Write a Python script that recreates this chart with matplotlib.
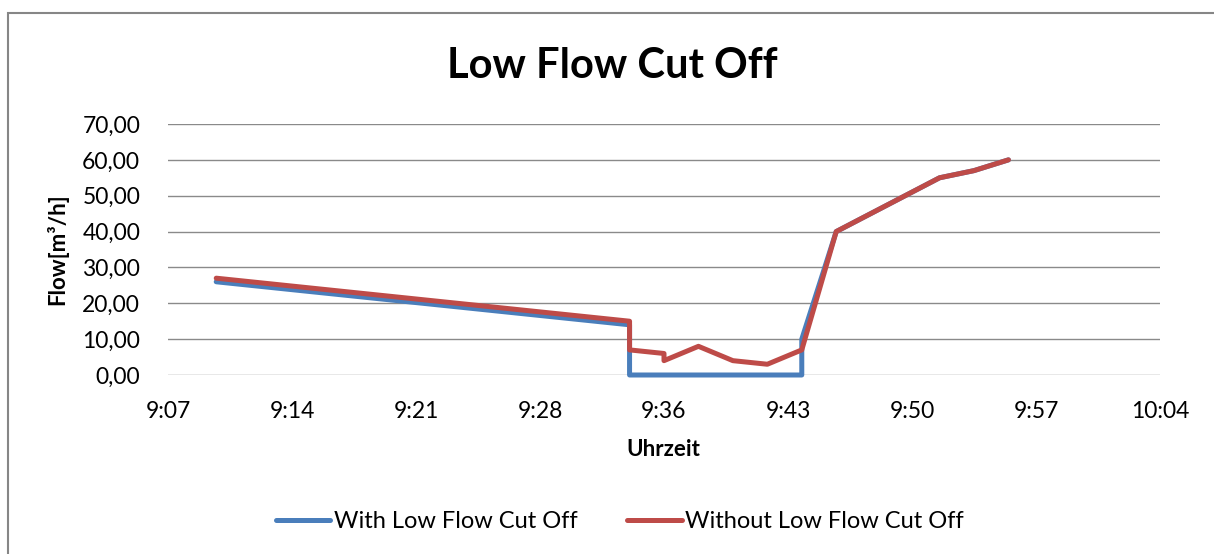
import matplotlib
matplotlib.use("Agg")
import matplotlib.pyplot as plt
from matplotlib.patches import Rectangle

plt.rcParams['font.family'] = ['Lato', 'DejaVu Sans']

# data (time of day, flow in m3/h)
times_with = ["9:10", "9:34", "9:34", "9:44", "9:44", "9:46", "9:52", "9:54", "9:56"]
flow_with = [26, 14, 0, 0, 10, 40, 55, 57, 60]

times_without = ["9:10", "9:34", "9:34", "9:36", "9:36", "9:38", "9:40", "9:42", "9:44",
                 "9:46", "9:52", "9:54", "9:56"]
flow_without = [27, 15, 7, 6, 4, 8, 4, 3, 7, 40, 55, 57, 60]

# Excel time axis: 0.38 .. 0.42 days, major unit 0.005 days
x_min_days = 0.38
x_max_days = 0.42
x_step_days = 0.005
y_ticks = [0, 10, 20, 30, 40, 50, 60, 70]


def to_minutes(t):
    h, m = t.split(':')
    return int(h) * 60 + int(m)


def fmt_time(minutes):
    h = int(minutes // 60)
    m = int(minutes % 60 + 1e-6)
    return f"{h}:{m:02d}"


W, H = 1214, 554
fig = plt.figure(figsize=(W / 100, H / 100), dpi=100)
ax = fig.add_axes([168 / W, 1 - 375 / H, (1160 - 168) / W, (375 - 124) / H])

blue = '#4A7EBB'
red = '#BE4B48'

ax.plot([to_minutes(t) for t in times_with], flow_with, color=blue, lw=3.6,
        solid_joinstyle='round', solid_capstyle='round', clip_on=False,
        label='With Low Flow Cut Off', zorder=3)
ax.plot([to_minutes(t) for t in times_without], flow_without, color=red, lw=3.6,
        solid_joinstyle='round', solid_capstyle='round', clip_on=False,
        label='Without Low Flow Cut Off', zorder=4)

x0 = x_min_days * 1440
x1 = x_max_days * 1440
n_ticks = int(round((x_max_days - x_min_days) / x_step_days)) + 1
xt = [x0 + i * x_step_days * 1440 for i in range(n_ticks)]
ax.set_xlim(x0, x1)
ax.set_xticks(xt)
ax.set_xticklabels([fmt_time(v) for v in xt])
ax.set_ylim(0, 70)
ax.set_yticks(y_ticks)
ax.set_yticklabels([f"{v:.2f}".replace('.', ',') for v in y_ticks])

ax.tick_params(axis='both', length=0, labelsize=16.5, colors='black')
ax.tick_params(axis='x', pad=19)
ax.tick_params(axis='y', pad=20)
for s in ax.spines.values():
    s.set_visible(False)
ax.yaxis.grid(True, color='#8a8a8a', lw=1.0)
ax.set_axisbelow(True)

fig.text(612 / W, 1 - 66 / H, 'Low Flow Cut Off', ha='center', va='center',
         fontsize=30, fontweight='bold')
fig.text(663 / W, 1 - 450 / H, 'Uhrzeit', ha='center', va='center',
         fontsize=16, fontweight='bold')
fig.text(57 / W, 1 - 249 / H, 'Flow[m³/h]', ha='center', va='center',
         fontsize=16, fontweight='bold', rotation=90)

fig.legend(loc='center', bbox_to_anchor=(620 / W, 1 - 522 / H), ncol=2, frameon=False,
           fontsize=17, handlelength=2.3, handletextpad=0.15, columnspacing=2.1)

fig.patches.append(Rectangle((8 / W, -0.1), 1.2, 1.1 - 13 / H, transform=fig.transFigure,
                             fill=False, edgecolor='#868686', lw=1.5))

fig.savefig('out.png', dpi=100)
